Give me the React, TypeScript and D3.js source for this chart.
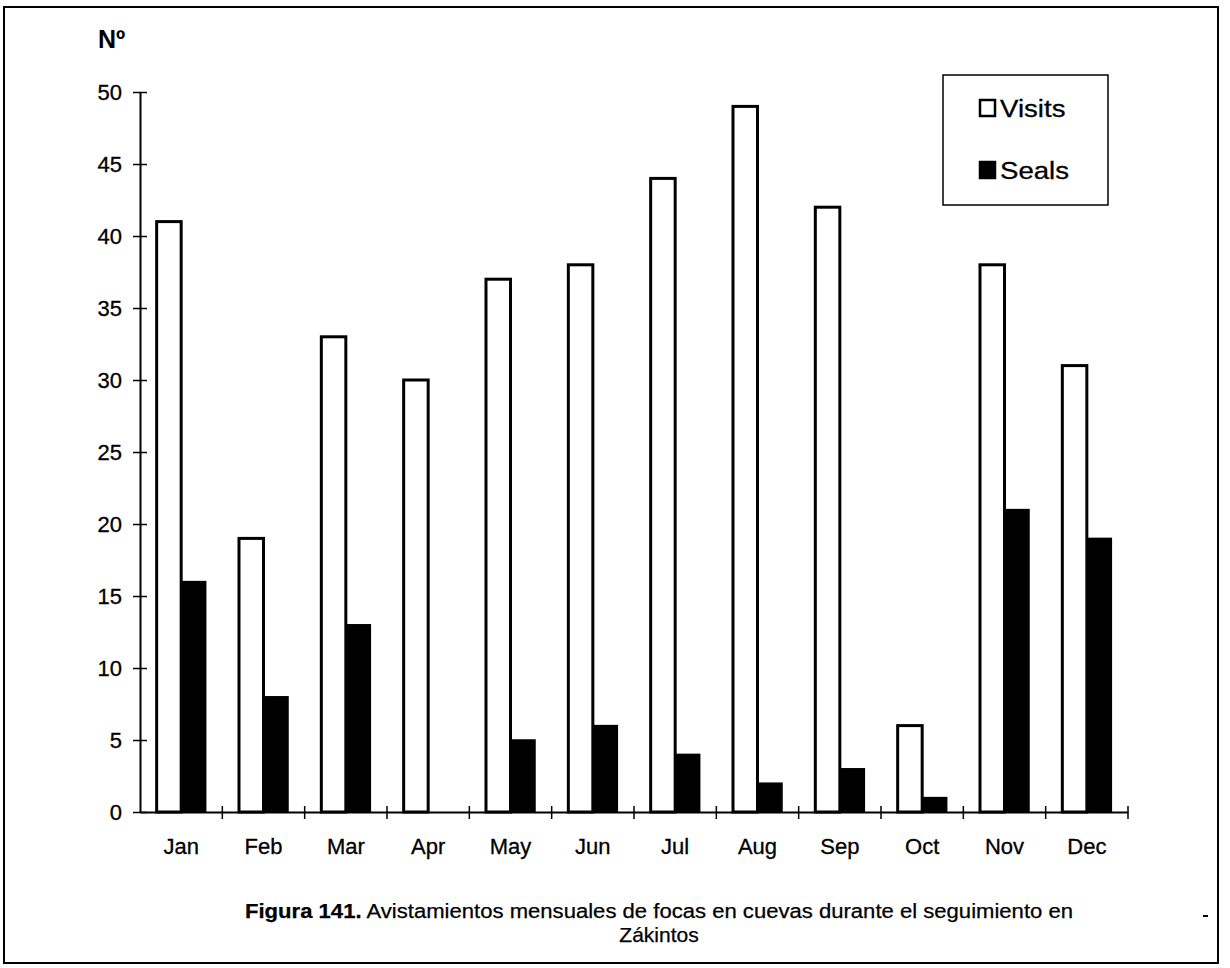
import React, { useRef, useEffect } from 'react';
import * as d3 from 'd3';

const months = ['Jan', 'Feb', 'Mar', 'Apr', 'May', 'Jun', 'Jul', 'Aug', 'Sep', 'Oct', 'Nov', 'Dec'];
const visits = [41, 19, 33, 30, 37, 38, 44, 49, 42, 6, 38, 31];
const seals = [16, 8, 13, 0, 5, 6, 4, 2, 3, 1, 21, 19];
const yTicks = [0, 5, 10, 15, 20, 25, 30, 35, 40, 45, 50];
const legendItems = [
  { label: 'Visits', fill: '#fff' },
  { label: 'Seals', fill: '#000' },
];
const captionBold = 'Figura 141.';
const captionRest = ' Avistamientos mensuales de focas en cuevas durante el seguimiento en';
const captionLine2 = 'Zákintos';

const FONT = '"Liberation Sans", Arial, Helvetica, sans-serif';

const SealsChart: React.FC = () => {
  const svgRef = useRef<SVGSVGElement>(null);

  useEffect(() => {
    if (!svgRef.current) return;
    const svg = d3.select(svgRef.current);
    svg.selectAll('*').remove();

    // page frame around the figure
    svg.append('rect')
      .attr('x', 4).attr('y', 7)
      .attr('width', 1214).attr('height', 956)
      .attr('fill', 'none').attr('stroke', '#000').attr('stroke-width', 2);

    const left = 140, right = 1128, top = 92, bottom = 812;

    const x = d3.scaleBand<string>().domain(months).range([left, right]);
    const inner = d3.scaleBand<string>()
      .domain(['visits', 'seals'])
      .range([0, x.bandwidth()])
      .paddingOuter(0.68)
      .paddingInner(0);
    const y = d3.scaleLinear().domain([0, 50]).range([bottom, top]);

    // bars
    const g = svg.append('g');
    months.forEach((m, i) => {
      const bx = x(m)!;
      g.append('rect')
        .attr('x', bx + inner('visits')!)
        .attr('y', y(visits[i]))
        .attr('width', inner.bandwidth())
        .attr('height', y(0) - y(visits[i]))
        .attr('fill', '#fff')
        .attr('stroke', '#000')
        .attr('stroke-width', 3);
      if (seals[i] > 0) {
        g.append('rect')
          .attr('x', bx + inner('seals')!)
          .attr('y', y(seals[i]))
          .attr('width', inner.bandwidth())
          .attr('height', y(0) - y(seals[i]))
          .attr('fill', '#000')
          .attr('stroke', '#000')
          .attr('stroke-width', 1.5);
      }
    });

    // y axis
    const yAxis = svg.append('g')
      .attr('transform', `translate(${left},0)`)
      .call(d3.axisLeft(y).tickValues(yTicks).tickSize(0).tickPadding(18).tickFormat(d3.format('d')));
    yAxis.select('.domain').attr('stroke', '#000').attr('stroke-width', 2);
    yAxis.selectAll('text')
      .attr('font-family', FONT).attr('font-size', 22).attr('fill', '#000')
      .attr('stroke', '#000').attr('stroke-width', 0.3);
    yAxis.selectAll('.tick')
      .append('line')
      .attr('x1', -7).attr('x2', 7)
      .attr('stroke', '#000').attr('stroke-width', 1.5);

    // x axis
    const xAxis = svg.append('g')
      .attr('transform', `translate(0,${bottom})`)
      .call(d3.axisBottom(x).tickSize(0).tickPadding(26));
    xAxis.select('.domain').attr('stroke', '#000').attr('stroke-width', 2);
    xAxis.selectAll('text')
      .attr('font-family', FONT).attr('font-size', 22).attr('fill', '#000')
      .attr('stroke', '#000').attr('stroke-width', 0.3);
    months.forEach(m => {
      xAxis.append('line')
        .attr('x1', x(m)! + x.bandwidth()).attr('x2', x(m)! + x.bandwidth())
        .attr('y1', -6).attr('y2', 7)
        .attr('stroke', '#000').attr('stroke-width', 1.5);
    });

    // y label
    svg.append('text')
      .attr('x', 98).attr('y', 48)
      .attr('font-family', FONT).attr('font-size', 25).attr('font-weight', 'bold')
      .text('Nº');

    // legend
    const legend = svg.append('g');
    legend.append('rect')
      .attr('x', 943).attr('y', 75).attr('width', 165).attr('height', 130)
      .attr('fill', '#fff').attr('stroke', '#000').attr('stroke-width', 1.5);
    legendItems.forEach((d, i) => {
      const ly = 108 + i * 62;
      legend.append('rect')
        .attr('x', 980).attr('y', ly - 8).attr('width', 15).attr('height', 16)
        .attr('fill', d.fill).attr('stroke', '#000').attr('stroke-width', 2.5);
      legend.append('text')
        .attr('transform', `translate(1000,${ly + 9}) scale(1.15,1)`)
        .attr('font-family', FONT).attr('font-size', 24)
        .attr('stroke', '#000').attr('stroke-width', 0.3)
        .text(d.label);
    });

    // caption
    const cx = 659;
    const cap = svg.append('text')
      .attr('x', cx).attr('y', 918)
      .attr('text-anchor', 'middle')
      .attr('textLength', 828).attr('lengthAdjust', 'spacingAndGlyphs')
      .attr('font-family', FONT).attr('font-size', 20)
      .attr('stroke', '#000').attr('stroke-width', 0.25);
    cap.append('tspan').attr('font-weight', 'bold').text(captionBold);
    cap.append('tspan').text(captionRest);
    svg.append('text')
      .attr('x', cx).attr('y', 942)
      .attr('text-anchor', 'middle')
      .attr('font-family', FONT).attr('font-size', 21)
      .attr('stroke', '#000').attr('stroke-width', 0.25)
      .text(captionLine2);

    // small scan mark at right margin
    svg.append('line')
      .attr('x1', 1203).attr('x2', 1208).attr('y1', 916).attr('y2', 916)
      .attr('stroke', '#000').attr('stroke-width', 2);
  }, []);

  return (
    <svg
      ref={svgRef}
      width={1230}
      height={968}
      style={{ position: 'absolute', left: 0, top: 0, background: '#fff' }}
    />
  );
};

export default function App() {
  return <SealsChart />;
}
